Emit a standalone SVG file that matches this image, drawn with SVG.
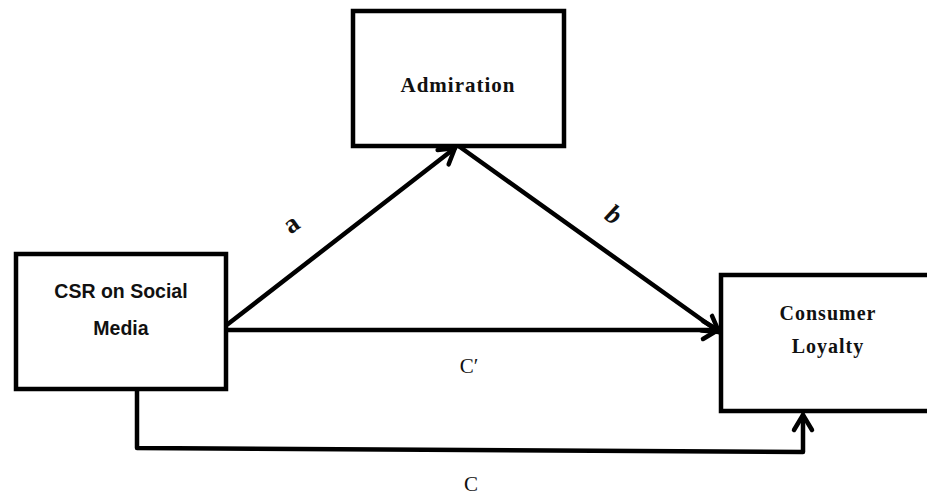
<svg xmlns="http://www.w3.org/2000/svg" width="927" height="496" viewBox="0 0 927 496">
<defs>
<style>
.box{fill:#fff;stroke:#000;stroke-width:4.5}
.ln{fill:none;stroke:#000;stroke-width:4.5;stroke-linecap:round;stroke-linejoin:round}
.ser{font-family:"Liberation Serif","Times New Roman",serif;font-weight:bold;fill:#111;text-anchor:middle}
.sans{font-family:"Liberation Sans",Arial,sans-serif;font-weight:bold;fill:#111;text-anchor:middle;font-size:19.5px}
.lab{font-family:"Liberation Serif","Times New Roman",serif;fill:#111;text-anchor:middle;font-size:21px}
.big{font-size:27px;font-weight:bold}
</style>
<marker id="arr" markerUnits="userSpaceOnUse" markerWidth="30" markerHeight="30" viewBox="-20 -15 30 30" refX="0" refY="0" orient="auto">
<path d="M-15,-9 L0,0 L-15,9" fill="none" stroke="#000" stroke-width="4.5" stroke-linecap="round" stroke-linejoin="round"/>
</marker>
</defs>
<g id="connectors">
<path class="ln" d="M228,324 L455,148" marker-end="url(#arr)"/>
<path class="ln" d="M460,147 L719,332" marker-end="url(#arr)"/>
<path class="ln" d="M228,330 L718,330" marker-end="url(#arr)"/>
<path class="ln" d="M137,390 L137,448 L803,452 L803,415" marker-end="url(#arr)"/>
<text class="lab big" transform="translate(296,231) rotate(-35)">a</text>
<text class="lab big" font-style="italic" transform="translate(609,222) rotate(33)">b</text>
<text class="lab" x="469" y="373">C′</text>
<text class="lab" x="471" y="491">C</text>
</g>
<g id="admiration">
<rect class="box" x="353" y="11" width="211" height="135"/>
<text class="ser" x="458" y="92" font-size="21" letter-spacing="1">Admiration</text>
</g>
<g id="csr">
<rect class="box" x="16" y="254" width="210" height="135"/>
<text class="sans" x="121" y="298">CSR on Social</text>
<text class="sans" x="121" y="335">Media</text>
</g>
<g id="loyalty">
<rect class="box" x="721" y="275" width="220" height="136"/>
<text class="ser" x="828" y="320" font-size="20" letter-spacing="1">Consumer</text>
<text class="ser" x="828" y="353" font-size="20" letter-spacing="1">Loyalty</text>
</g>
</svg>
